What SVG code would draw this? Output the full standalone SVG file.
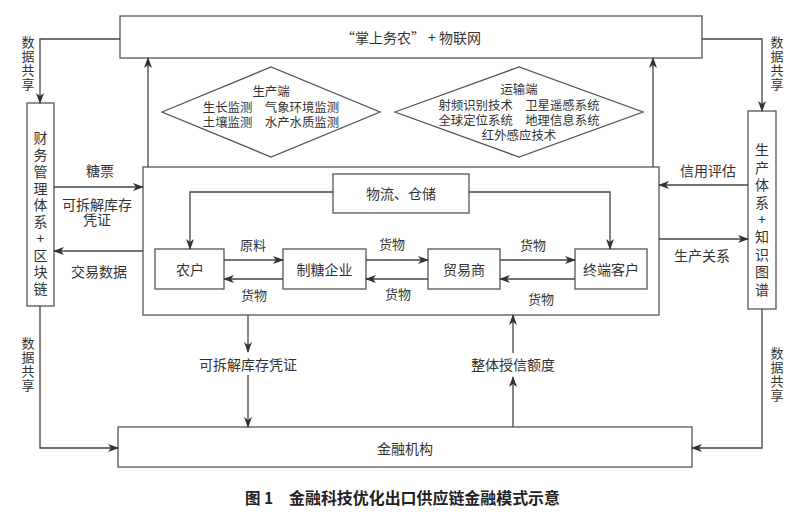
<svg xmlns="http://www.w3.org/2000/svg" width="800" height="514" viewBox="0 0 800 514">
<defs>
<marker id="ah" markerWidth="11" markerHeight="8" refX="10" refY="4" orient="auto" markerUnits="userSpaceOnUse">
<path d="M0,0 L11,4 L0,8 L3,4 z" fill="#333"/>
</marker>
<style>
.box{fill:#fff;stroke:#555;stroke-width:1.3}
.ln{fill:none;stroke:#444;stroke-width:1.3;marker-end:url(#ah)}
text{font-family:"Noto Sans CJK SC","Liberation Sans",sans-serif;fill:#333;dominant-baseline:central;text-anchor:middle}
.t14{font-size:14px}
.t13{font-size:13px}
.t12{font-size:12.4px}
.v{writing-mode:vertical-rl;text-orientation:upright;text-anchor:start}
.cap{font-size:15.5px;font-weight:bold;fill:#222;text-anchor:start}
</style>
</defs>
<rect width="800" height="514" fill="#fff"/>

<g id="iot">
<rect class="box" x="120" y="16" width="582" height="42"/>
<text class="t14" x="411" y="37">“掌上务农” + 物联网</text>
</g>

<g id="production-end">
<polygon class="box" points="162,112 271,67 380,112 271,157"/>
<text class="t12" x="271" y="91">生产端<tspan x="271" dy="16">生长监测　气象环境监测</tspan><tspan x="271" dy="15">土壤监测　水产水质监测</tspan></text>
</g>

<g id="transport-end">
<polygon class="box" points="395,112 519,67 643,112 519,157"/>
<text class="t12" x="519" y="89">运输端<tspan x="519" dy="16">射频识别技术　卫星遥感系统</tspan><tspan x="519" dy="15">全球定位系统　地理信息系统</tspan><tspan x="519" dy="15">红外感应技术</tspan></text>
</g>

<g id="finance-blockchain">
<rect class="box" x="27" y="103" width="27" height="203"/>
<text class="t14 v" x="40.5" y="131" letter-spacing="2.75">财务管理体系+区块链</text>
</g>

<g id="production-knowledge">
<rect class="box" x="748" y="111" width="28" height="198"/>
<text class="t14 v" x="762" y="143" letter-spacing="3.4">生产体系+知识图谱</text>
</g>

<g id="supply-chain">
<rect class="box" x="143" y="167" width="516" height="148"/>
</g>

<g id="logistics">
<rect class="box" x="333" y="174" width="136" height="39"/>
<text class="t14" x="401" y="193">物流、仓储</text>
</g>
<g id="farmer">
<rect class="box" x="155" y="249" width="69" height="40"/>
<text class="t14" x="190" y="269">农户</text>
</g>
<g id="sugar-mill">
<rect class="box" x="283" y="249" width="83" height="40"/>
<text class="t14" x="324.5" y="269">制糖企业</text>
</g>
<g id="trader">
<rect class="box" x="428" y="249" width="72" height="40"/>
<text class="t14" x="464" y="269">贸易商</text>
</g>
<g id="end-customer">
<rect class="box" x="575" y="249" width="72" height="40"/>
<text class="t14" x="611" y="269">终端客户</text>
</g>

<g id="finance-institution">
<rect class="box" x="118" y="427" width="574" height="40"/>
<text class="t14" x="405" y="448">金融机构</text>
</g>

<g id="connectors">
<path class="ln" d="M120,39 H40 V103"/>
<path class="ln" d="M702,39 H762 V111"/>
<path class="ln" d="M40,306 V448 H118"/>
<path class="ln" d="M762,309 V448 H692"/>
<path class="ln" d="M148,167 V58"/>
<path class="ln" d="M653,167 V58"/>
<path class="ln" d="M54,187 H143"/>
<path class="ln" d="M143,251 H54"/>
<path class="ln" d="M748,185 H659"/>
<path class="ln" d="M659,239 H748"/>
<path class="ln" d="M248,315 V352"/>
<path class="ln" d="M248,375 V427"/>
<path class="ln" d="M513,427 V377"/>
<path class="ln" d="M513,353 V315"/>
<path class="ln" d="M333,192 H190 V249"/>
<path class="ln" d="M469,192 H610 V249"/>
<path class="ln" d="M224,260 H283"/>
<path class="ln" d="M283,279 H224"/>
<path class="ln" d="M366,260 H428"/>
<path class="ln" d="M428,279 H366"/>
<path class="ln" d="M500,260 H575"/>
<path class="ln" d="M575,279 H500"/>
</g>

<g id="labels">
<text class="t13 v" x="28" y="35.5" letter-spacing="1">数据共享</text>
<text class="t13 v" x="777" y="35.5" letter-spacing="1">数据共享</text>
<text class="t13 v" x="28" y="336.5" letter-spacing="1">数据共享</text>
<text class="t13 v" x="777" y="346.5" letter-spacing="1">数据共享</text>
<text class="t14" x="100" y="170">糖票</text>
<text class="t14" x="97" y="204">可拆解库存<tspan x="97" dy="15">凭证</tspan></text>
<text class="t14" x="99" y="271">交易数据</text>
<text class="t14" x="708" y="170">信用评估</text>
<text class="t14" x="702" y="255">生产关系</text>
<text class="t13" x="253" y="244">原料</text>
<text class="t13" x="254" y="294">货物</text>
<text class="t13" x="392" y="243">货物</text>
<text class="t13" x="398" y="293">货物</text>
<text class="t13" x="533" y="244">货物</text>
<text class="t13" x="541" y="298">货物</text>
<text class="t14" x="248" y="364">可拆解库存凭证</text>
<text class="t14" x="513" y="364">整体授信额度</text>
</g>

<g id="caption">
<text class="cap" x="245" y="497">图 1</text>
<text class="cap" x="289" y="497" textLength="271" lengthAdjust="spacingAndGlyphs">金融科技优化出口供应链金融模式示意</text>
</g>
</svg>
